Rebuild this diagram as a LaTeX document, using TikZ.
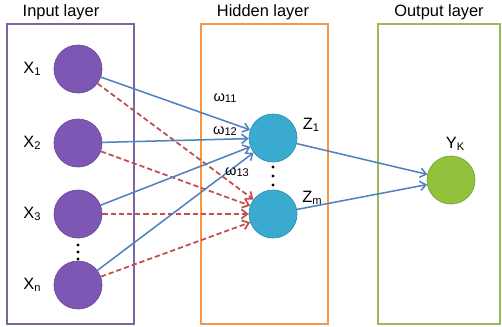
\documentclass[tikz,border=0pt]{standalone}
\usepackage{fontspec}
\setmainfont{Liberation Sans}
\usetikzlibrary{arrows.meta,positioning}
\usepackage{xcolor}
\definecolor{InColor}{HTML}{7E57B5}
\definecolor{HidColor}{HTML}{3AAAD0}
\definecolor{OutColor}{HTML}{92C13B}
\definecolor{InBox}{HTML}{8064A2}
\definecolor{HidBox}{HTML}{F79646}
\definecolor{OutBox}{HTML}{9BBB59}
\definecolor{WireBlue}{HTML}{4F81BD}
\definecolor{WireRed}{HTML}{C0504D}

% small lowered index, as in X1, Zm, w11
\newcommand{\lsub}[1]{\raisebox{-0.2ex}{\fontsize{9.5}{10}\selectfont #1}}

\tikzset{
  neuron/.style={circle,minimum size=1.44cm,inner sep=0pt,line width=0.6pt},
  innode/.style={neuron,fill=InColor,draw=InColor!85!black},
  hidnode/.style={neuron,fill=HidColor,draw=HidColor!85!black},
  outnode/.style={neuron,fill=OutColor,draw=OutColor!85!black},
  layerbox/.style={line width=1.3pt},
  title/.style={font=\fontsize{14}{16}\selectfont},
  vlabel/.style={font=\fontsize{14}{16}\selectfont},
  wlabel/.style={font=\fontsize{12.5}{14}\selectfont},
  wline/.style={WireBlue,line width=1.3pt,-{Straight Barb[length=5pt,width=8pt]}},
  wdash/.style={WireRed,line width=1.5pt,dash pattern=on 4.5pt off 2.5pt,
                -{Straight Barb[length=5pt,width=8pt]}},
  vdot/.style={circle,fill=black,inner sep=0pt,minimum size=2.6pt}
}

\begin{document}
\begin{tikzpicture}[x=0.03cm,y=-0.03cm]
  \useasboundingbox (0,0) rectangle (502,326);

  % layer frames and titles
  \draw[layerbox,InBox]  (7,24) rectangle (134,324);
  \draw[layerbox,HidBox] (201,24) rectangle (328,324);
  \draw[layerbox,OutBox] (378,24) rectangle (500,324);
  \node[title] (tin)  at (61,12)  {Input layer};
  \node[title] (thid) at (263,12) {Hidden layer};
  \node[title] (tout) at (439,12) {Output layer};

  % neurons
  \node[innode] (x1) at (78,69) {};
  \node[innode] (x2) at (78,143) {};
  \node[innode] (x3) at (78,214) {};
  \node[innode] (xn) at (78,285) {};
  \node[hidnode] (z1) at (273,138) {};
  \node[hidnode] (zm) at (273,214) {};
  \node[outnode] (yk) at (451,180) {};

  % neuron labels
  \node[vlabel] (lx1) at (32,69)  {X\lsub{1}};
  \node[vlabel] (lx2) at (32,143) {X\lsub{2}};
  \node[vlabel] (lx3) at (32,214) {X\lsub{3}};
  \node[vlabel] (lxn) at (32,285) {X\lsub{n}};
  \node[vlabel] (lz1) at (311,125) {Z\lsub{1}};
  \node[vlabel] (lzm) at (312,198) {Z\lsub{m}};
  \node[vlabel] (lyk) at (455,144) {Y\lsub{K}};

  % vertical dots
  \foreach \y in {245,252,259} \node[vdot] at (78,\y) {};
  \foreach \y in {167,176,185} \node[vdot] at (273,\y) {};

  % weights into the hidden layer
  \foreach \src in {x1,x2,x3,xn} {
    \draw[wline] (\src) -- (z1);
    \draw[wdash] (\src) -- (zm);
  }
  \draw[wline] (z1) -- (yk);
  \draw[wline] (zm) -- (yk);

  \node[wlabel] (w11) at (225,98)  {ω\lsub{11}};
  \node[wlabel] (w12) at (225,131) {ω\lsub{12}};
  \node[wlabel] (w13) at (237,172) {ω\lsub{13}};
\end{tikzpicture}
\end{document}
